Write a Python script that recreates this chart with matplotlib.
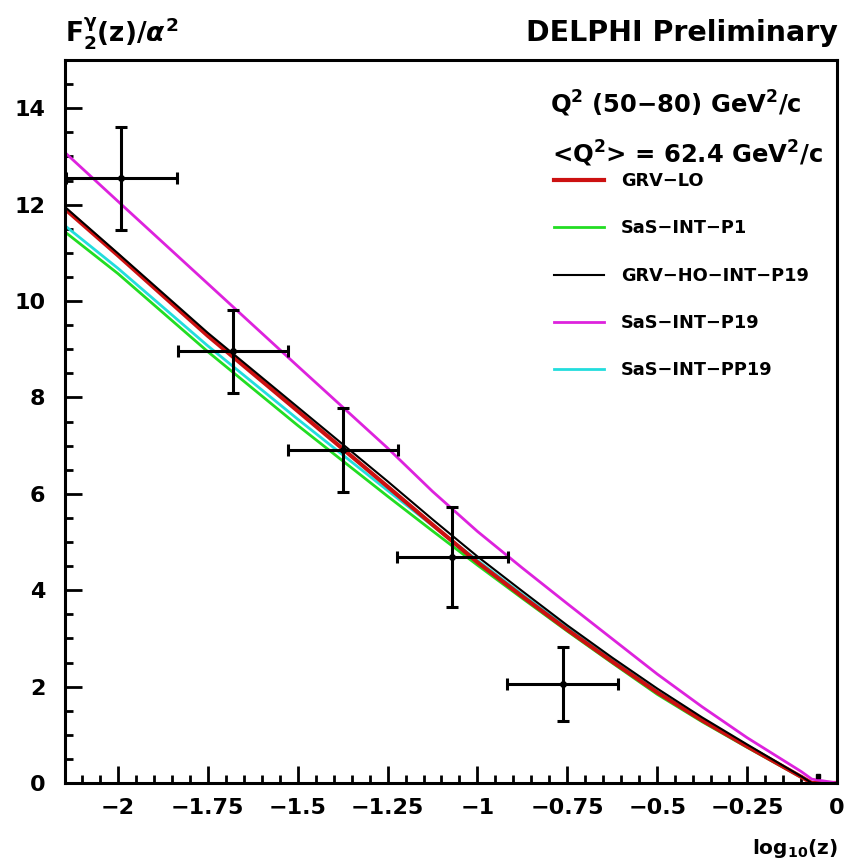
import numpy as np
import matplotlib.pyplot as plt
from matplotlib.ticker import MultipleLocator

plt.rcParams['font.family'] = ['DejaVu Sans']
plt.rcParams['font.weight'] = 'bold'
plt.rcParams['mathtext.fontset'] = 'custom'
plt.rcParams['mathtext.rm'] = 'DejaVu Sans:bold'
plt.rcParams['mathtext.it'] = 'DejaVu Sans:bold:italic'
plt.rcParams['mathtext.bf'] = 'DejaVu Sans:bold'

# DELPHI measurement (log10 z bins)
x_data = [-1.99, -1.68, -1.375, -1.07, -0.763]
x_err = [0.155, 0.154, 0.153, 0.154, 0.154]
y_data = [12.55, 8.96, 6.91, 4.69, 2.05]
y_err = [1.07, 0.86, 0.88, 1.04, 0.77]
x_end, y_end = [-0.053], [0.15]

# model curves
x_curve = [-2.15, -2.0, -1.75, -1.5, -1.25, -1.125, -1.0, -0.875, -0.75,
           -0.625, -0.5, -0.375, -0.25, -0.1, -0.07, 0.0]
grv_lo = [11.93, 10.95, 9.28, 7.72, 6.15, 5.36, 4.58, 3.87, 3.18,
          2.52, 1.88, 1.30, 0.76, 0.13, 0.0, 0.0]
sas_p1 = [11.45, 10.57, 8.95, 7.42, 5.95, 5.23, 4.52, 3.83, 3.15,
          2.49, 1.84, 1.27, 0.74, 0.12, 0.0, 0.0]
grv_ho = [11.97, 10.99, 9.34, 7.80, 6.26, 5.47, 4.70, 3.98, 3.27,
          2.60, 1.96, 1.36, 0.80, 0.14, 0.0, 0.0]
sas_p19 = [13.10, 12.07, 10.36, 8.65, 6.95, 6.05, 5.22, 4.46, 3.72,
           2.99, 2.26, 1.58, 0.94, 0.24, 0.08, 0.0]
sas_pp19 = [11.58, 10.68, 9.07, 7.55, 6.07, 5.34, 4.62, 3.91, 3.22,
            2.55, 1.90, 1.31, 0.77, 0.13, 0.0, 0.0]

fig = plt.figure(figsize=(8.59, 8.65), dpi=100)
ax = fig.add_axes([0.0757, 0.0948, 0.8987, 0.8358])

l_p1, = ax.plot(x_curve, sas_p1, color='#22dd22', lw=2.0)
l_pp19, = ax.plot(x_curve, sas_pp19, color='#22dddd', lw=2.0)
l_lo, = ax.plot(x_curve, grv_lo, color='#cc1111', lw=3.0)
l_ho, = ax.plot(x_curve, grv_ho, color='black', lw=1.5)
l_p19, = ax.plot(x_curve, sas_p19, color='#dd22dd', lw=2.0)

ax.errorbar(x_data, y_data, xerr=x_err, yerr=y_err, fmt='o', color='black',
            ms=4, elinewidth=2.2, capsize=4, capthick=2.2, zorder=5)
ax.plot(x_end, y_end, 's', color='black', ms=3)

ax.set_xlim(-2.147, 0)
ax.set_ylim(0, 15)
ax.xaxis.set_major_locator(MultipleLocator(0.25))
ax.xaxis.set_minor_locator(MultipleLocator(0.05))
ax.yaxis.set_major_locator(MultipleLocator(2))
ax.yaxis.set_minor_locator(MultipleLocator(0.5))
ax.set_xticks([-2, -1.75, -1.5, -1.25, -1, -0.75, -0.5, -0.25, 0])
ax.set_xticklabels(['\u22122', '\u22121.75', '\u22121.5', '\u22121.25', '\u22121',
                    '\u22120.75', '\u22120.5', '\u22120.25', '0'])
ax.tick_params(which='both', direction='in', top=False, right=False,
               labelsize=16, width=2)
ax.tick_params(which='major', length=12)
ax.tick_params(which='minor', length=6)
ax.tick_params(axis='y', pad=14)
ax.tick_params(axis='x', pad=11)
for s in ax.spines.values():
    s.set_linewidth(2.2)

fig.text(0.0757, 0.962, r'$\mathrm{F^{\gamma}_{2}(z)/}\alpha^{2}$', fontsize=19, va='center')
fig.text(0.9755, 0.962, 'DELPHI Preliminary', fontsize=20.5, ha='right', va='center')
fig.text(0.9755, 0.006, r'log$_{10}$(z)', fontsize=14.5, ha='right', va='bottom')

ax.text(0.628, 0.94, r'Q$^{2}$ (50$-$80) GeV$^{2}$/c', transform=ax.transAxes,
        fontsize=17.5, va='center')
ax.text(0.631, 0.87, r'<Q$^{2}$> = 62.4 GeV$^{2}$/c', transform=ax.transAxes,
        fontsize=17.5, va='center')
ax.legend([l_lo, l_p1, l_ho, l_p19, l_pp19],
          ['GRV\u2212LO', 'SaS\u2212INT\u2212P1', 'GRV\u2212HO\u2212INT\u2212P19',
           'SaS\u2212INT\u2212P19', 'SaS\u2212INT\u2212PP19'],
          loc='upper left', bbox_to_anchor=(0.634, 0.845), frameon=False,
          fontsize=12.8, handlelength=2.8, handletextpad=0.95, labelspacing=1.65,
          borderpad=0, borderaxespad=0)

fig.savefig('out.png', dpi=100)
